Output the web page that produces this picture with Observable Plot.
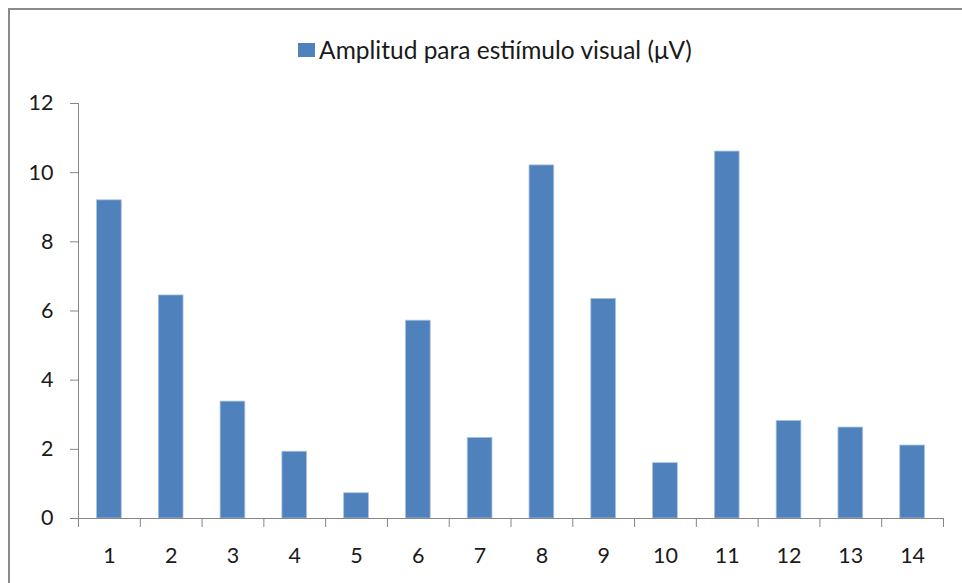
<!DOCTYPE html>
<html>
<head>
<meta charset="utf-8">
<script src="https://cdn.jsdelivr.net/npm/d3@7"></script>
<script src="https://cdn.jsdelivr.net/npm/@observablehq/plot@0.6"></script>
<style>
  html, body { margin: 0; padding: 0; background: #fff; overflow: hidden; }
  #page { position: relative; width: 962px; height: 583px; overflow: hidden; }
  #frame {
    position: absolute; left: 8px; top: 8px; width: 2000px; height: 2000px;
    border: 2px solid #8a8a8a; box-sizing: border-box;
  }
  #legend {
    position: absolute; left: 0; top: 0; width: 962px; height: 75px;
    display: flex; align-items: center; justify-content: center;
    padding-left: 28px; padding-top: 24px; box-sizing: border-box;
    font-family: Lato, "Open Sans", sans-serif; font-size: 24.5px; color: #1a1a1a;
  }
  #legend .key { width: 17px; height: 14px; margin-right: 4px; display: inline-block; }
  #chart { position: absolute; left: 0; top: 75px; }
</style>
</head>
<body>
<div id="page">
  <div id="frame"></div>
  <div id="legend"><span class="key"></span><span class="name"></span></div>
  <div id="chart"></div>
</div>
<script>
// Series: amplitude per subject
const categories = [1, 2, 3, 4, 5, 6, 7, 8, 9, 10, 11, 12, 13, 14];
const values = [9.2, 6.45, 3.38, 1.93, 0.73, 5.72, 2.33, 10.21, 6.35, 1.6, 10.61, 2.82, 2.63, 2.11];
const yTicks = [0, 2, 4, 6, 8, 10, 12];
const seriesName = "Amplitud para estiímulo visual (μV)";

const barColor = "#4F81BD";
const axisColor = "#868686";
const textColor = "#1a1a1a";

const data = categories.map((c, i) => ({cat: c, value: values[i]}));
// category boundaries where the x-axis tick marks sit
const boundaries = [...categories.map(c => c - 0.5), categories[categories.length - 1] + 0.5];

document.querySelector("#legend .key").style.background = barColor;
document.querySelector("#legend .name").textContent = seriesName;

const chart = Plot.plot({
  width: 962,
  height: 508,
  marginLeft: 78,
  marginRight: 19,
  marginTop: 28,
  marginBottom: 65,
  style: {fontFamily: "Lato, 'Open Sans', sans-serif", fontSize: "21.5px", color: textColor, background: "transparent"},
  x: {type: "linear", domain: [0.5, 14.5], label: null},
  y: {domain: [0, 12], label: null},
  marks: [
    Plot.rectY(data, {
      x1: d => d.cat - 0.2,
      x2: d => d.cat + 0.2,
      y: "value",
      fill: barColor,
      stroke: "#a9c1df",
      strokeWidth: 0.8
    }),
    Plot.ruleX([0.5], {stroke: axisColor}),
    Plot.ruleY([0], {stroke: axisColor}),
    Plot.axisY({ticks: yTicks, tickSize: 8, tickPadding: 17, stroke: axisColor, fill: textColor, tickFormat: d => String(d)}),
    Plot.axisX({ticks: boundaries, tickSize: 9, stroke: axisColor, tickFormat: () => ""}),
    Plot.axisX({ticks: categories, tickSize: 0, tickPadding: 29, fill: textColor, tickFormat: d => String(d)})
  ]
});
document.getElementById("chart").appendChild(chart);
</script>
</body>
</html>
